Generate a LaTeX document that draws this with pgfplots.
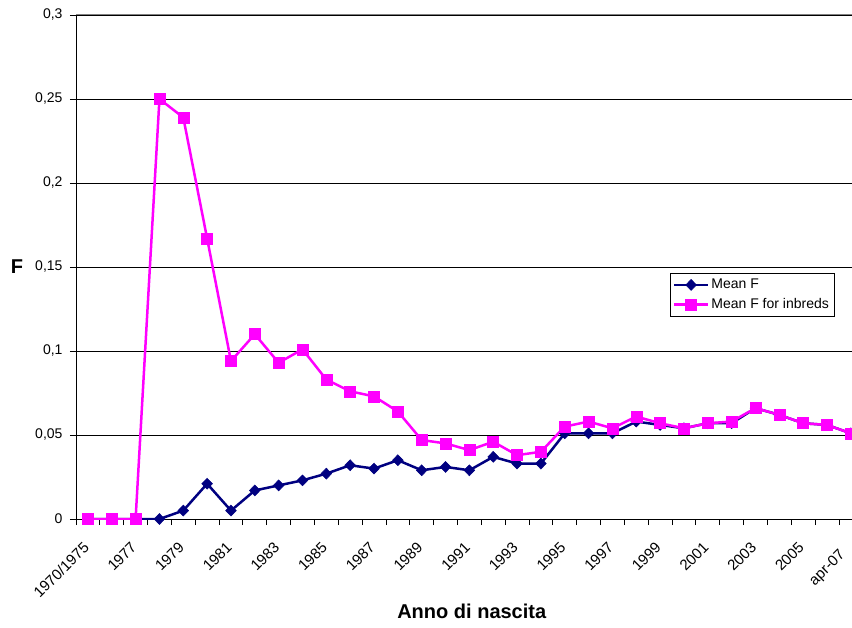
\documentclass[border=0pt]{standalone}
\usepackage{pgfplots}
\pgfplotsset{compat=1.18}
\usepackage{fontspec}
\setmainfont{Liberation Sans}

\definecolor{meanblue}{RGB}{0,0,128}
\definecolor{inbredpink}{RGB}{255,0,255}

\pgfplotstableread{
idx meanf inbred
0  0.000 0.000
1  0.000 0.000
2  0.000 0.000
3  0.000 0.250
4  0.005 0.239
5  0.021 0.167
6  0.005 0.094
7  0.017 0.110
8  0.020 0.093
9  0.023 0.101
10 0.027 0.083
11 0.032 0.076
12 0.030 0.073
13 0.035 0.064
14 0.029 0.047
15 0.031 0.045
16 0.029 0.041
17 0.037 0.046
18 0.033 0.038
19 0.033 0.040
20 0.051 0.055
21 0.051 0.058
22 0.051 0.054
23 0.058 0.061
24 0.056 0.057
25 0.054 0.054
26 0.057 0.057
27 0.057 0.058
28 0.066 0.066
29 0.062 0.062
30 0.057 0.057
31 0.056 0.056
32 0.051 0.051
}\datatable

\begin{document}
\begin{tikzpicture}
\begin{axis}[
    name=ax,
    scale only axis,
    width=776pt, height=504pt,
    xmin=-0.5, xmax=32.05,
    ymin=0, ymax=0.3,
    axis x line*=bottom,
    axis y line*=left,
    axis line style={black, line width=0.8pt},
    tick align=outside,
    major tick length=6pt,
    tick style={black, line width=0.8pt},
    ytick={0,0.05,0.1,0.15,0.2,0.25,0.3},
    ymajorgrids,
    grid style={black, line width=0.8pt},
    yticklabel style={font=\fontsize{14}{16}\selectfont, xshift=-4pt,
        /pgf/number format/fixed, /pgf/number format/use comma, /pgf/number format/assume math mode=true},
    xtick={-0.5,0.5,...,31.5},
    xticklabels={},
    extra x ticks={0,2,...,32},
    extra x tick labels={1970/1975,1977,1979,1981,1983,1985,1987,1989,1991,1993,1995,1997,1999,2001,2003,2005,apr-07},
    extra x tick style={major tick length=0pt},
    xticklabel style={font=\fontsize{15}{17}\selectfont, rotate=45, anchor=north east,
        xshift={\ticknum==16 ? -26 : -16}, yshift=-8pt},
    xlabel={\bfseries Anno di nascita},
    xlabel style={font=\fontsize{20}{22}\selectfont, at={(axis description cs:0.51,0)}, anchor=center, yshift=-92pt},
    ylabel={\bfseries F},
    ylabel style={font=\fontsize{20}{22}\selectfont, rotate=-90, at={(axis description cs:0,0.5)}, anchor=center, xshift=-59pt},
    legend style={at={(0.977,0.488)}, anchor=north east, draw=black, line width=0.6pt,
                  font=\fontsize{14}{16}\selectfont, inner xsep=3pt, inner ysep=4pt, row sep=4pt},
    legend cell align=left,
    legend image code/.code={\draw[mark repeat=2, mark phase=2] plot coordinates {(0pt,0pt) (17pt,0pt) (34pt,0pt)};},
]
\addplot[color=meanblue, line width=2.5pt, mark=diamond*, mark size=5.5pt,
    mark options={solid, xscale=1.3, line width=0.5pt}] table[x=idx, y=meanf] {\datatable};
\addlegendentry{Mean F}
\addplot[color=inbredpink, line width=2.5pt, mark=square*, mark size=5.5pt,
    mark options={solid, line width=0.5pt}] table[x=idx, y=inbred] {\datatable};
\addlegendentry{Mean F for inbreds}
\draw[gray, line width=1pt] (rel axis cs:0,1) -- (rel axis cs:1,1);
\end{axis}
\pgfresetboundingbox
\path ([xshift=-76pt, yshift=15pt]ax.north west) rectangle ([yshift=-108pt]ax.south east);
\end{tikzpicture}
\end{document}
